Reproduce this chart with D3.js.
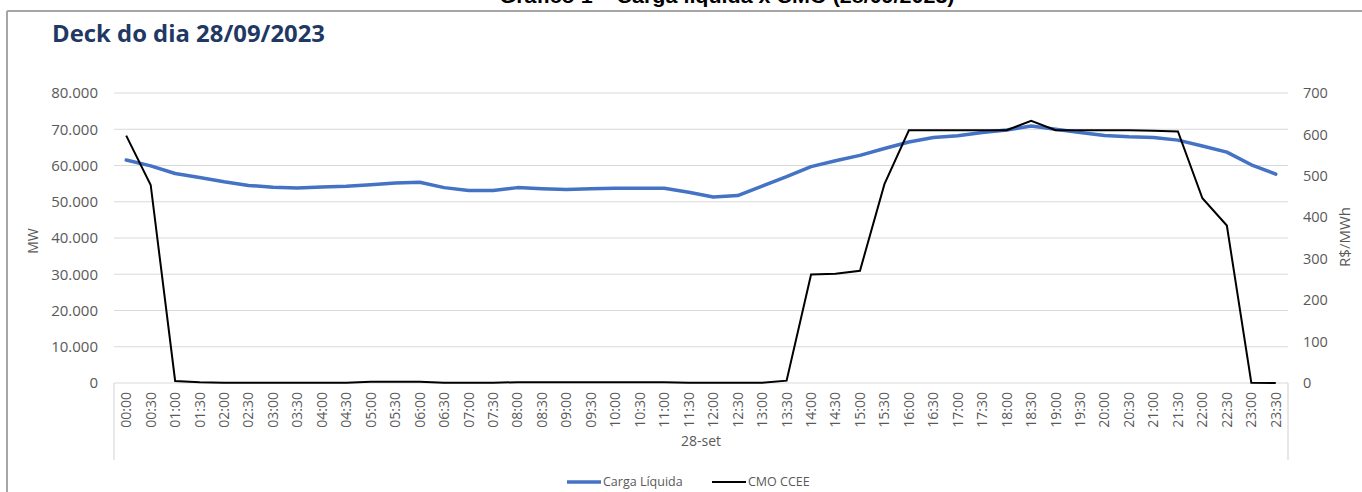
<!DOCTYPE html>
<html>
<head>
<meta charset="utf-8">
<script src="https://cdn.jsdelivr.net/npm/d3@7"></script>
<style>
  html, body { margin: 0; padding: 0; background: #ffffff; }
  svg { display: block; font-family: "Open Sans", "Liberation Sans", sans-serif; }
</style>
</head>
<body>
<svg id="chart" width="1362" height="492"></svg>
<script>
// Half-hourly time slots for 28/09/2023
const times = [
  "00:00","00:30","01:00","01:30","02:00","02:30","03:00","03:30",
  "04:00","04:30","05:00","05:30","06:00","06:30","07:00","07:30",
  "08:00","08:30","09:00","09:30","10:00","10:30","11:00","11:30",
  "12:00","12:30","13:00","13:30","14:00","14:30","15:00","15:30",
  "16:00","16:30","17:00","17:30","18:00","18:30","19:00","19:30",
  "20:00","20:30","21:00","21:30","22:00","22:30","23:00","23:30"
];

// Net load (MW)
const cargaLiquida = [
  61500, 59900, 57800, 56700, 55500, 54500, 54000, 53800,
  54100, 54300, 54700, 55200, 55400, 53900, 53100, 53100,
  53900, 53600, 53400, 53600, 53700, 53700, 53700, 52600,
  51300, 51700, 54300, 56900, 59700, 61300, 62800, 64700,
  66500, 67700, 68200, 69100, 69800, 70900, 70000, 69100,
  68300, 67900, 67700, 67000, 65400, 63700, 60200, 57600
];

// Marginal operating cost, CCEE (R$/MWh)
const cmoCcee = [
  597, 478, 5, 2, 0.5, 0.5, 0.5, 0.5,
  0.5, 0.5, 3, 3, 3, 0.5, 0.5, 0.5,
  2, 2, 2, 2, 2, 2, 2, 0.5,
  0.5, 0.5, 0.5, 5.6, 262, 264, 271, 480,
  610, 610, 610, 610, 610, 633, 610, 610,
  610, 610, 609, 607, 446, 380, 0.7, 0
];

const leftTicks = [0, 10000, 20000, 30000, 40000, 50000, 60000, 70000, 80000];
const rightTicks = [0, 100, 200, 300, 400, 500, 600, 700];
const dayLabel = "28-set";

const svg = d3.select("#chart");
const plot = { left: 114, right: 1288, top: 93, bottom: 383 };

// Frame around the figure
svg.append("line").attr("x1", 7).attr("x2", 1362).attr("y1", 11).attr("y2", 11)
  .attr("stroke", "#a6a6a6").attr("stroke-width", 2);
svg.append("line").attr("x1", 7).attr("x2", 7).attr("y1", 11).attr("y2", 492)
  .attr("stroke", "#a6a6a6").attr("stroke-width", 2);

// Caption above the frame
svg.append("text").attr("x", 727).attr("y", 3)
  .attr("text-anchor", "middle").attr("font-size", 20).attr("font-weight", "bold")
  .attr("font-family", "'Liberation Sans', sans-serif").attr("fill", "#000")
  .attr("textLength", 455).attr("lengthAdjust", "spacingAndGlyphs")
  .text("Gráfico 1 – Carga líquida x CMO (28/09/2023)");

// Title
svg.append("text").attr("x", 52).attr("y", 42)
  .attr("font-size", 24).attr("font-weight", "bold").attr("fill", "#1f3864")
  .attr("textLength", 273).attr("lengthAdjust", "spacingAndGlyphs")
  .text("Deck do dia 28/09/2023");

const x = d3.scaleBand().domain(times).range([plot.left, plot.right]).paddingInner(0).paddingOuter(0);
const xc = t => x(t) + x.bandwidth() / 2;
const yL = d3.scaleLinear().domain([0, 80000]).range([plot.bottom, plot.top]);
const yR = d3.scaleLinear().domain([0, 700]).range([plot.bottom, plot.top]);

const fmtMW = d3.formatLocale({ decimal: ",", thousands: ".", grouping: [3], currency: ["R$", ""] }).format(",.0f");

// Gridlines
svg.append("g").selectAll("line").data(leftTicks.filter(d => d > 0)).join("line")
  .attr("x1", plot.left).attr("x2", plot.right)
  .attr("y1", d => yL(d)).attr("y2", d => yL(d))
  .attr("stroke", "#d9d9d9").attr("stroke-width", 1.2);

// Left axis labels
const axL = svg.append("g").attr("transform", `translate(${plot.left - 16},0)`)
  .call(d3.axisLeft(yL).tickValues(leftTicks).tickFormat(fmtMW).tickSize(0).tickPadding(0));
axL.select(".domain").remove();
axL.selectAll("text").attr("font-size", 15).attr("fill", "#595959")
  .attr("font-family", "'Open Sans', sans-serif");

// Right axis labels
const axR = svg.append("g").attr("transform", `translate(${plot.right + 15},0)`)
  .call(d3.axisRight(yR).tickValues(rightTicks).tickFormat(d3.format("d")).tickSize(0).tickPadding(0));
axR.select(".domain").remove();
axR.selectAll("text").attr("font-size", 14.5).attr("fill", "#595959")
  .attr("font-family", "'Open Sans', sans-serif");

// Axis titles
svg.append("text").attr("transform", "translate(38,241) rotate(-90)")
  .attr("text-anchor", "middle").attr("font-size", 14).attr("fill", "#595959").text("MW");
svg.append("text").attr("transform", "translate(1350,237) rotate(-90)")
  .attr("text-anchor", "middle").attr("font-size", 15).attr("fill", "#595959").text("R$/MWh");

// Category axis: baseline and enclosing box
const catBottom = 460;
svg.append("line").attr("x1", plot.left).attr("x2", plot.right)
  .attr("y1", plot.bottom).attr("y2", plot.bottom)
  .attr("stroke", "#d9d9d9").attr("stroke-width", 1.2);
[plot.left, plot.right].forEach(px => {
  svg.append("line").attr("x1", px).attr("x2", px)
    .attr("y1", plot.bottom).attr("y2", catBottom)
    .attr("stroke", "#d9d9d9").attr("stroke-width", 1.2);
});

const axX = svg.append("g").attr("transform", `translate(0,${plot.bottom})`)
  .call(d3.axisBottom(x).tickSize(0).tickPadding(0));
axX.select(".domain").remove();
axX.selectAll("text")
  .attr("transform", "translate(0,9) rotate(-90)")
  .attr("text-anchor", "end").attr("dy", "0.35em").attr("y", 0)
  .attr("font-size", 14).attr("fill", "#595959")
  .attr("font-family", "'Open Sans', sans-serif");

svg.append("text").attr("x", (plot.left + plot.right) / 2).attr("y", 446)
  .attr("text-anchor", "middle").attr("font-size", 14).attr("fill", "#595959").text(dayLabel);

// Series lines
const lineL = d3.line().x((d, i) => xc(times[i])).y(d => yL(d));
const lineR = d3.line().x((d, i) => xc(times[i])).y(d => yR(d));

svg.append("path").datum(cargaLiquida).attr("d", lineL)
  .attr("fill", "none").attr("stroke", "#4472c4").attr("stroke-width", 3.5)
  .attr("stroke-linejoin", "round").attr("stroke-linecap", "round");

svg.append("path").datum(cmoCcee).attr("d", lineR)
  .attr("fill", "none").attr("stroke", "#000000").attr("stroke-width", 2)
  .attr("stroke-linejoin", "miter");

// Legend
const legend = [
  { name: "Carga Líquida", color: "#4472c4", width: 3.5, x: 567 },
  { name: "CMO CCEE", color: "#000000", width: 2, x: 712 }
];
const lg = svg.append("g").selectAll("g").data(legend).join("g")
  .attr("transform", d => `translate(${d.x},482)`);
lg.append("line").attr("x1", 0).attr("x2", 34).attr("y1", 0).attr("y2", 0)
  .attr("stroke", d => d.color).attr("stroke-width", d => d.width);
lg.append("text").attr("x", 36).attr("dy", "0.35em")
  .attr("font-size", 12.5).attr("fill", "#595959").text(d => d.name);
</script>
</body>
</html>
